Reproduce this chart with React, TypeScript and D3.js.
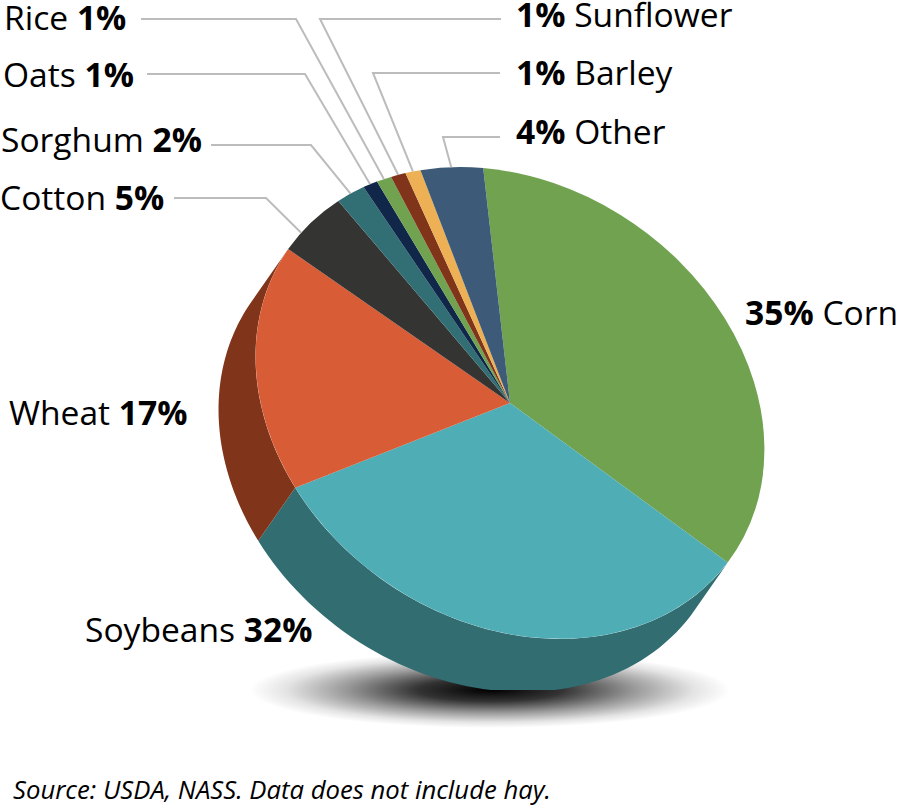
import * as d3 from 'd3';

// crop shares, clockwise from corn
const crops = ['Corn', 'Soybeans', 'Wheat', 'Cotton', 'Sorghum', 'Oats', 'Rice', 'Sunflower', 'Barley', 'Other'];
const shares = [35, 32, 17, 5, 2, 1, 1, 1, 1, 4];
const colors = ['#70a250', '#4fadb5', '#d85c36', '#343432', '#326f75', '#10274a', '#70a250', '#80341a', '#eeb055', '#3d5a78'];
const wallColors: Record<string, string> = { Soybeans: '#316d71', Wheat: '#80341a' };

// label placement: bold part first or last, anchor, leader elbow and where it lands along the slice
const labels = [
  { crop: 'Rice', x: 4, y: 30, boldFirst: false, from: [141, 19], elbow: [296, 19], at: 0.5 },
  { crop: 'Oats', x: 3, y: 87, boldFirst: false, from: [147, 74], elbow: [305, 74], at: 0.5 },
  { crop: 'Sorghum', x: 1, y: 152, boldFirst: false, from: [211, 145], elbow: [311, 145], at: 0.5 },
  { crop: 'Cotton', x: 0, y: 210, boldFirst: false, from: [174, 198], elbow: [266, 198], at: 0.3 },
  { crop: 'Wheat', x: 9, y: 425, boldFirst: false },
  { crop: 'Soybeans', x: 85, y: 642, boldFirst: false },
  { crop: 'Corn', x: 745, y: 325, boldFirst: true },
  { crop: 'Sunflower', x: 516, y: 27, boldFirst: true, from: [501, 19], elbow: [320, 19], at: 0.5 },
  { crop: 'Barley', x: 516, y: 85, boldFirst: true, from: [500, 73], elbow: [373, 73], at: 0.5 },
  { crop: 'Other', x: 516, y: 144, boldFirst: true, from: [500, 137], elbow: [443, 137], at: 0.5 },
];

const width = 898;
const height = 806;
const cx = 510;
const cy = 403;
const major = 270; // the face is a tilted ellipse
const minor = 218;
const tilt = 34.5;
const depth: [number, number] = [-37, 53];
const startAngle = (-0.6 * Math.PI) / 180;

const slices = d3.pie<number>().sort(null).startAngle(startAngle).endAngle(startAngle + 2 * Math.PI)(shares);
const arc = d3.arc<d3.PieArcDatum<number>>().innerRadius(0).outerRadius(1);

const t = (tilt * Math.PI) / 180;
// point on the face rim for a pie angle (0 = up, clockwise)
function rim(angle: number): [number, number] {
  const ux = Math.sin(angle);
  const uy = -Math.cos(angle);
  const a = (ux * Math.cos(t) + uy * Math.sin(t)) * major;
  const b = (-ux * Math.sin(t) + uy * Math.cos(t)) * minor;
  return [cx + a * Math.cos(t) - b * Math.sin(t), cy + a * Math.sin(t) + b * Math.cos(t)];
}

const line = d3.line();

function wall(s: d3.PieArcDatum<number>) {
  const angles = d3.range(0, 61).map((i) => s.startAngle + ((s.endAngle - s.startAngle) * i) / 60);
  const top = angles.map(rim);
  const bottom = top.map(([x, y]) => [x + depth[0], y + depth[1]] as [number, number]).reverse();
  return line([...top, ...bottom]) + 'Z';
}

const faceTransform = `translate(${cx},${cy}) rotate(${tilt}) scale(${major},${minor}) rotate(${-tilt})`;
const bodyFont = '"Open Sans", sans-serif';

export default function App() {
  return (
    <svg width={width} height={height} style={{ position: 'absolute', left: 0, top: 0 }} fontFamily={bodyFont}>
      <defs>
        <radialGradient id="shadow">
          <stop offset="0%" stopColor="#000" />
          <stop offset="30%" stopColor="#333" />
          <stop offset="60%" stopColor="#999" />
          <stop offset="85%" stopColor="#e4e4e4" />
          <stop offset="100%" stopColor="#fff" />
        </radialGradient>
        <clipPath id="floor">
          <rect x={0} y={0} width={width} height={690} />
        </clipPath>
      </defs>
      <ellipse cx={490} cy={690} rx={240} ry={38} fill="url(#shadow)" />

      <g clipPath="url(#floor)">
        {slices.map((s, i) =>
          wallColors[crops[i]] ? <path key={crops[i]} d={wall(s)} fill={wallColors[crops[i]]} /> : null
        )}
      </g>

      <g transform={faceTransform}>
        {slices.map((s, i) => (
          <path key={crops[i]} d={arc(s) as string} fill={colors[i]} />
        ))}
      </g>

      {labels.filter((l) => l.from).map((l) => {
        const s = slices[crops.indexOf(l.crop)];
        const end = rim(s.startAngle + (s.endAngle - s.startAngle) * (l.at as number));
        return (
          <path
            key={l.crop}
            d={line([l.from as [number, number], l.elbow as [number, number], end]) as string}
            fill="none"
            stroke="#bcbcbc"
            strokeWidth={2}
          />
        );
      })}

      <g fontSize={33.6} fill="#000">
        {labels.map((l) => {
          const pct = `${shares[crops.indexOf(l.crop)]}%`;
          return (
            <text key={l.crop} x={l.x} y={l.y}>
              {l.boldFirst ? (
                <>
                  <tspan fontWeight="bold">{pct}</tspan> {l.crop}
                </>
              ) : (
                <>
                  {l.crop} <tspan fontWeight="bold">{pct}</tspan>
                </>
              )}
            </text>
          );
        })}
      </g>

      <text x={13} y={799} fontSize={25.7} fontStyle="italic" fill="#000">
        Source: USDA, NASS. Data does not include hay.
      </text>
    </svg>
  );
}
